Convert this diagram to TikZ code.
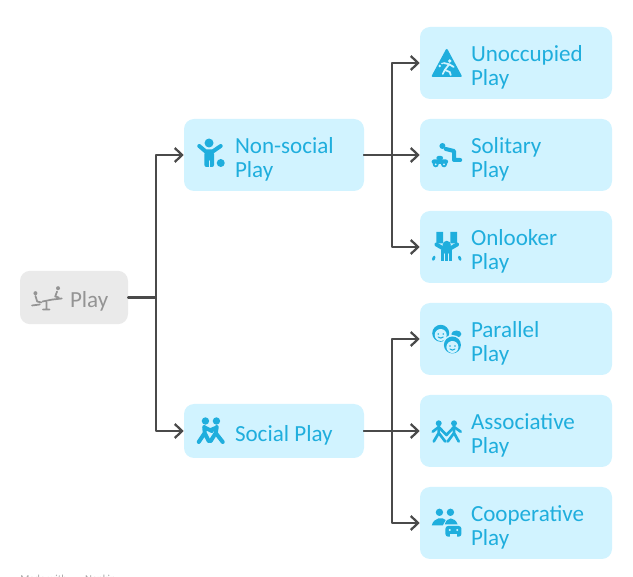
\documentclass[tikz,border=0pt]{standalone}
\usepackage{fontspec}
\setmainfont{Carlito}
\usetikzlibrary{arrows.meta,positioning}
\definecolor{azul}{HTML}{1FAEDD}
\definecolor{celeste}{HTML}{D1F3FF}
\definecolor{gris}{HTML}{EAEAEA}
\definecolor{grisos}{HTML}{949494}
\definecolor{linea}{HTML}{4A4A4A}
\begin{document}
\begin{tikzpicture}[x=0.75pt,y=-0.75pt,line cap=round,line join=round]%1 unidad = 1 pixel de la referencia
\tikzstyle{hoja}=[fill=celeste,rounded corners=7.5pt,minimum width=144pt,minimum height=54pt,inner sep=0pt]% cajas de la derecha
\tikzstyle{rama}=[fill=celeste,rounded corners=7.5pt,minimum width=135pt,minimum height=54pt,inner sep=0pt]% cajas del medio
\tikzstyle{raiz}=[fill=gris,rounded corners=7.5pt,minimum width=81pt,minimum height=40pt,inner sep=0pt]
\tikzstyle{texto}=[text=azul,font=\fontsize{17.3}{18}\selectfont,align=left,inner sep=0pt,anchor=west]
\tikzstyle{conexion}=[draw=linea,line width=1.7pt,-{Straight Barb[length=5.5pt,width=10.5pt,line width=1.7pt]},rounded corners=0pt]
\tikzstyle{trazo}=[draw=azul,line width=3pt]
\tikzstyle{fino}=[draw=azul,line width=2pt]
\useasboundingbox (0,0) rectangle (633,577);
\node[raiz] (play) at (74,297.5) {};
\node[rama] (nonsocial) at (274,155) {};
\node[rama,minimum height=40.5pt] (social) at (274,431) {};
\node[hoja] (unoccupied) at (516,63) {};
\node[hoja] (solitary) at (516,155) {};
\node[hoja] (onlooker) at (516,247) {};
\node[hoja] (parallel) at (516,339) {};
\node[hoja] (associative) at (516,431) {};
\node[hoja] (cooperative) at (516,523) {};
\node[texto,text=grisos] (playt) at ([xshift=37.5pt,yshift=-3pt]play.west) {Play};
\node[texto] (nonsocialt) at ([xshift=38.25pt,yshift=-3pt]nonsocial.west) {Non-social\\Play};
\node[texto] (socialt) at ([xshift=38.25pt,yshift=-3pt]social.west) {Social Play};
\node[texto] (unoccupiedt) at ([xshift=38.25pt,yshift=-3pt]unoccupied.west) {Unoccupied\\Play};
\node[texto] (solitaryt) at ([xshift=38.25pt,yshift=-3pt]solitary.west) {Solitary\\Play};
\node[texto] (onlookert) at ([xshift=38.25pt,yshift=-3pt]onlooker.west) {Onlooker\\Play};
\node[texto] (parallelt) at ([xshift=38.25pt,yshift=-3pt]parallel.west) {Parallel\\Play};
\node[texto] (associativet) at ([xshift=38.25pt,yshift=-3pt]associative.west) {Associative\\Play};
\node[texto] (cooperativet) at ([xshift=38.25pt,yshift=-3pt]cooperative.west) {Cooperative\\Play};
\node[text=black!35,font=\fontsize{8}{9}\selectfont,inner sep=0pt,anchor=base west] (marca) at (20,583) {Made with \hspace{10pt} Napkin};
\draw[conexion] (play.east) -- ++(28,0) |- (nonsocial.west);
\draw[conexion] (play.east) -- ++(28,0) |- (social.west);
\draw[conexion] (nonsocial.east) -- ++(28,0) |- (unoccupied.west);
\draw[conexion] (nonsocial.east) -- (solitary.west);
\draw[conexion] (nonsocial.east) -- ++(28,0) |- (onlooker.west);
\draw[conexion] (social.east) -- ++(28,0) |- (parallel.west);
\draw[conexion] (social.east) -- (associative.west);
\draw[conexion] (social.east) -- ++(28,0) |- (cooperative.west);
\begin{scope}[shift={([xshift=20.25pt]play.west)}]% balancin
\fill[grisos] (-11.3,-4.3) circle (2) (11.3,-9.3) circle (2);
\draw[grisos,line width=1.3pt] (-11.3,-1.5) -- (-9.5,4) -- (-5.5,5) (-14.7,8) -- (-7,7) (10.3,-6) -- (8.5,-1) -- (12,0) (6,2) -- (15,1);
\draw[grisos,line width=1.3pt] (-4.3,4) -- (5.7,2) (-0.3,4.6) -- (-0.3,11) (-3.7,12) -- (2.7,12);
\end{scope}
\begin{scope}[shift={([xshift=20.25pt]nonsocial.west)}]% nino con pelota
\fill[azul] (-1.7,-12) circle (4.5) (10,8) circle (4);
\draw[trazo] (-11.5,-9) -- (-5,-3.5) -- (2,-3.5) -- (10,-9);
\fill[azul,rounded corners=1.5pt] (-6.3,-3) rectangle (3.3,12);
\draw[celeste,line width=1pt] (-1.5,6) -- (-1.5,13);
\end{scope}
\begin{scope}[shift={([xshift=20.25pt]social.west)}]% dos ninos
\fill[azul] (-5.3,-10) circle (3.7) (5.7,-10) circle (3.7);
\draw[trazo] (-6.5,-4) -- (-6,2) -- (-12,11) (-6,2) -- (-2,10) (-6,-3.5) -- (1,0);
\draw[trazo] (6,-4) -- (5,2) -- (12,11) (5,2) -- (0,10) (6,-3.5) -- (0,-1);
\end{scope}
\begin{scope}[shift={([xshift=20.25pt]unoccupied.west)}]% triangulo con nino corriendo
\fill[azul,draw=azul,line width=1.5pt] (0,-13) -- (-14,13) -- (14,13) -- cycle;
\fill[celeste] (3,-2) circle (1.8) (-7,3) circle (1.3) (-4.5,0.5) circle (1);
\draw[celeste,line width=1.3pt] (-3,0) -- (2.5,1.3) -- (7,4) (2.5,1.3) -- (-2,7) -- (3,9) -- (4,12) (-2,7) -- (-4,11);
\end{scope}
\begin{scope}[shift={([xshift=20.25pt]solitary.west)}]% nino con carrito
\fill[azul] (-4.3,-9) circle (3);
\draw[trazo] (-1,-6) -- (7.3,-4) -- (7.3,5) -- (13.5,5);
\fill[azul,rounded corners=1.5pt] (-15,4.5) rectangle (1.3,9);
\fill[azul,rounded corners=1.5pt] (-10.3,1) rectangle (-3.7,5);
\fill[azul] (-11,9.3) circle (3) (-2.7,9.3) circle (3);
\fill[celeste] (-11,9.3) circle (1) (-2.7,9.3) circle (1);
\end{scope}
\begin{scope}[shift={([xshift=20.25pt]onlooker.west)}]% nino mirando
\fill[azul] (-10.3,-15) rectangle (-3.7,-3.7) (3.7,-15) rectangle (10.3,-3.7);
\fill[azul] (0,-2) circle (4.2);
\draw[trazo] (-10.3,-2.5) -- (0,3.5) -- (10.3,-2.5);
\fill[azul] (-5.3,3) rectangle (5.3,14);
\draw[celeste,line width=1pt] (-2,7) -- (-2,14.5) (2,7) -- (2,14.5);
\draw[fino] (-13.5,12.5) -- (-12.5,10) (13.5,12.5) -- (12.5,10);
\end{scope}
\begin{scope}[shift={([xshift=20.25pt]parallel.west)}]% dos caras
\fill[azul] (-6,-5.7) circle (8.5);
\fill[celeste] (-6,-4) circle (6);
\fill[azul] (-8.5,-5) circle (0.9) (-3.5,-5) circle (0.9);
\draw[azul,line width=0.8pt] (-8.5,-2) .. controls (-7,-0.5) and (-5,-0.5) .. (-3.5,-2);
\fill[azul] (9.7,-5) ellipse (5 and 3.5);
\fill[celeste] (5.7,6) circle (10);
\fill[azul] (5.7,6) circle (8.5);
\fill[celeste] (5.7,8) circle (6);
\fill[azul] (3.2,7) circle (0.9) (8.2,7) circle (0.9);
\draw[azul,line width=0.8pt] (3.2,10) .. controls (4.7,11.5) and (6.7,11.5) .. (8.2,10);
\end{scope}
\begin{scope}[shift={([xshift=20.25pt]associative.west)}]% ninos de la mano
\fill[azul] (-8,-7.7) circle (3) (7.3,-7.7) circle (3);
\draw[fino] (-14,0.7) -- (-8,-4) -- (-0.3,4) -- (7.3,-4) -- (14,0.7);
\draw[fino] (-8,-4) -- (-8,2) -- (-13,10.5) (-8,2) -- (-1.5,10.5) (7.3,-4) -- (7.3,2) -- (1,10.5) (7.3,2) -- (12,10.5);
\end{scope}
\begin{scope}[shift={([xshift=20.25pt]cooperative.west)}]% jugando juntos
\fill[azul] (-7.3,-10.7) circle (3.7) (3.7,-10.7) circle (3.7);
\fill[azul] (-15,2.5) .. controls (-13,-6) and (-4,-6) .. (-1,-3) -- (-4,2.5) -- cycle;
\fill[azul] (-2,1.5) .. controls (0,-6.5) and (8,-6.5) .. (11,1.5) -- cycle;
\fill[azul,rounded corners=2pt] (-1.3,3) rectangle (14.7,13.7);
\fill[celeste] (3,7) circle (1.2) (10.5,7) circle (1.2);
\fill[celeste] (3,13.7) rectangle (10.5,11.5);
\end{scope}
\end{tikzpicture}
\end{document}
